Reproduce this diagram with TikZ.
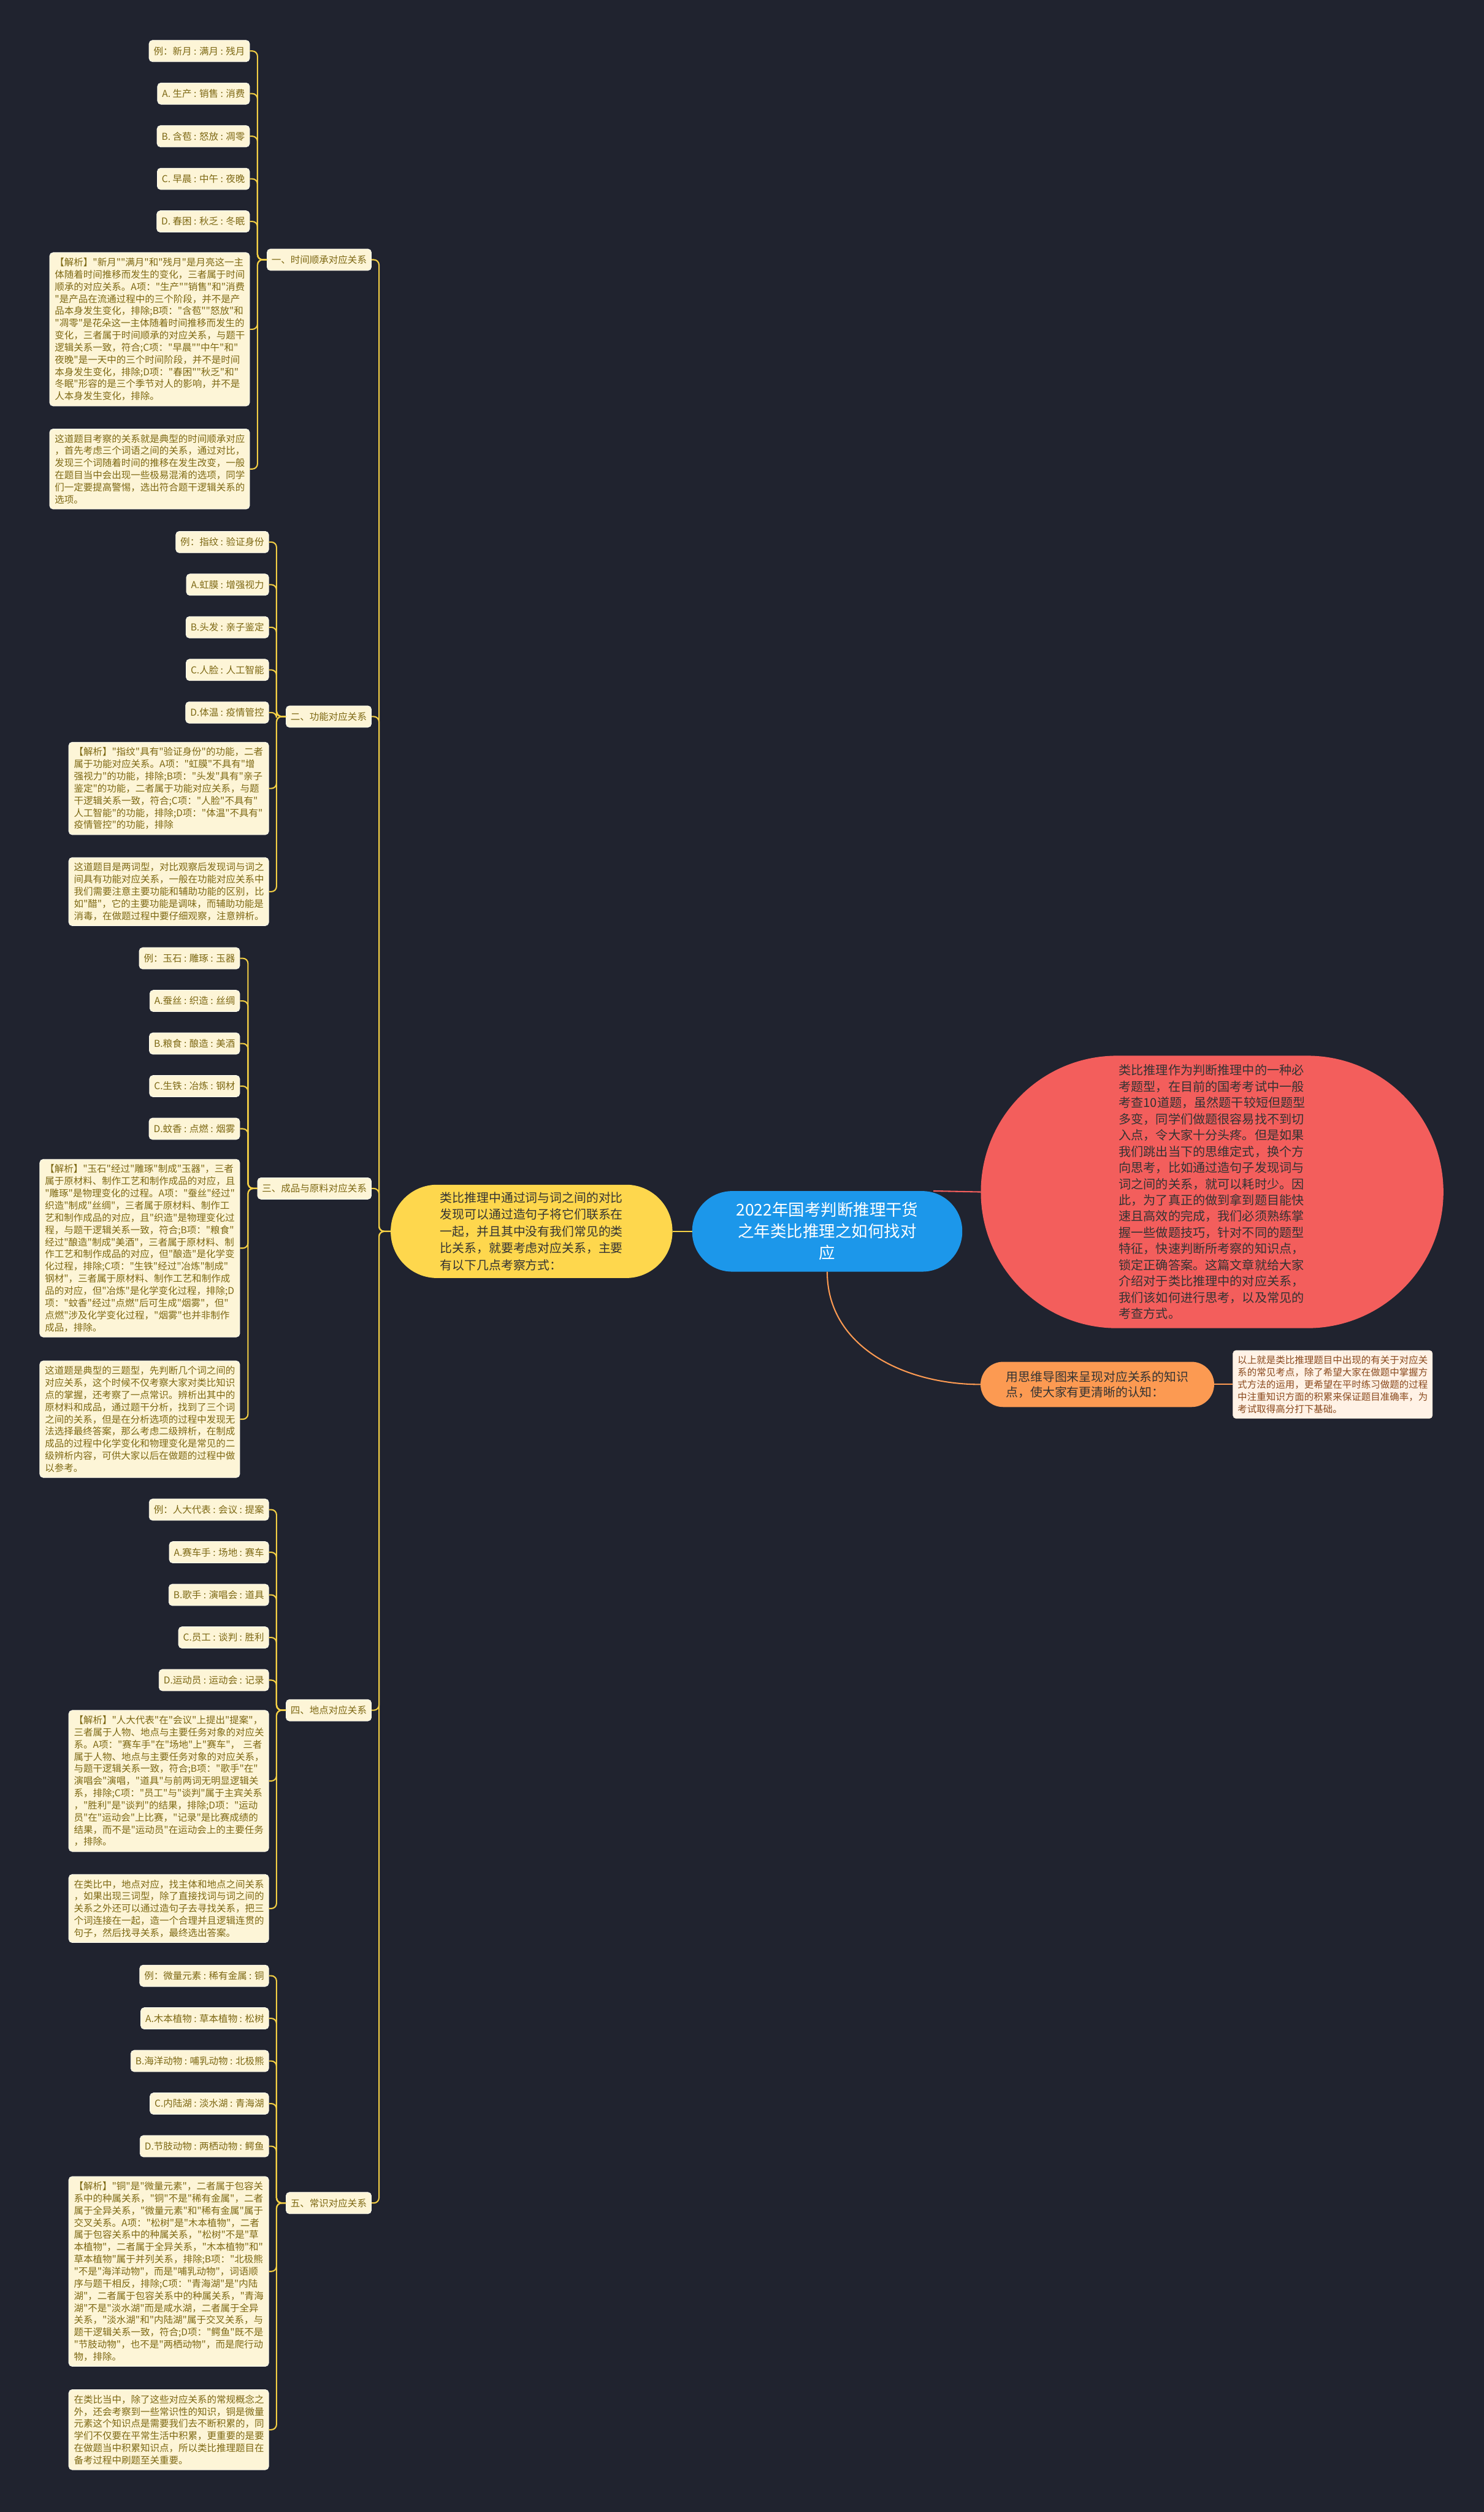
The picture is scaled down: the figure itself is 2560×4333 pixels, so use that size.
\documentclass[tikz,border=0pt]{standalone}
\usepackage{fontspec}
\setmainfont{Noto Sans CJK SC}[Ligatures=TeXOff]
\usepackage{xcolor}
\usetikzlibrary{positioning,calc}

\definecolor{bgc}{HTML}{20232F}
\definecolor{cream}{HTML}{FDF5D7}
\definecolor{olive}{HTML}{7D6813}
\definecolor{gold}{HTML}{F3CF45}
\definecolor{rootblue}{HTML}{1C97EA}
\definecolor{sunyel}{HTML}{FED74D}
\definecolor{coral}{HTML}{F35E5C}
\definecolor{tang}{HTML}{FC9A52}
\definecolor{peach}{HTML}{FFF2E6}
\definecolor{rust}{HTML}{8A4A1E}

\begin{document}
\begin{tikzpicture}[
    x=1pt, y=-1pt,
    font=\fontsize{16.4pt}{21pt}\selectfont,
    cat/.style  = {draw=white!70!cream, line width=0.8pt, fill=cream, text=olive,
                   rounded corners=6pt, minimum height=37pt, inner xsep=8pt, anchor=east},
    leaf/.style = {cat},
    txt/.style  = {cat, text width=327pt, align=left, inner xsep=9pt, inner ysep=9pt},
    pill/.style = {align=left, inner sep=4pt, text=black!80},
    ln/.style   = {draw=gold, line width=2.2pt, rounded corners=9pt},
]
\path[use as bounding box, fill=bgc] (0,0) rectangle (2560,4333);

%============================ CENTRE ================================
\node[pill, fill=rootblue, text=white, align=center, minimum width=466pt,
      minimum height=139pt, rounded corners=69pt,
      font=\fontsize{28pt}{37pt}\selectfont] (root) at (1427,2124)
      {2022年国考判断推理干货\\之年类比推理之如何找对\\应};

\node[pill, fill=sunyel, minimum width=486pt, minimum height=161pt,
      rounded corners=80pt, font=\fontsize{21pt}{29pt}\selectfont] (sum) at (917,2124)
      {类比推理中通过词与词之间的对比\\发现可以通过造句子将它们联系在\\一起，并且其中没有我们常见的类\\比关系，就要考虑对应关系，主要\\有以下几点考察方式：};

\node[pill, fill=coral, minimum width=798pt, minimum height=470pt,
      rounded corners=235pt, font=\fontsize{21.3pt}{28pt}\selectfont] (intro) at (2091,2056)
      {类比推理作为判断推理中的一种必\\考题型，在目前的国考考试中一般\\考查10道题，虽然题干较短但题型\\多变，同学们做题很容易找不到切\\入点，令大家十分头疼。但是如果\\我们跳出当下的思维定式，换个方\\向思考，比如通过造句子发现词与\\词之间的关系，就可以耗时少。因\\此，为了真正的做到拿到题目能快\\速且高效的完成，我们必须熟练掌\\握一些做题技巧，针对不同的题型\\特征，快速判断所考察的知识点，\\锁定正确答案。这篇文章就给大家\\介绍对于类比推理中的对应关系，\\我们该如何进行思考，以及常见的\\考查方式。};

\node[pill, fill=tang, minimum width=403pt, minimum height=78pt,
      rounded corners=39pt, font=\fontsize{21pt}{27pt}\selectfont] (mm) at (1893,2388)
      {用思维导图来呈现对应关系的知识\\点，使大家有更清晰的认知：};

\node[draw=white!80!tang, fill=peach, text=rust, rounded corners=5pt,
      text width=328pt, align=left, inner xsep=8pt, inner ysep=9pt] (fin) at (2299,2388)
      {以上就是类比推理题目中出现的有关于对应关\\系的常见考点，除了希望大家在做题中掌握方\\式方法的运用，更希望在平时练习做题的过程\\中注重知识方面的积累来保证题目准确率，为\\考试取得高分打下基础。};

\draw[draw=gold, line width=2.2pt] (sum.east) -- (root.west);
\draw[draw=coral, line width=2.2pt] ([xshift=-50pt]root.north east) -- (intro.west);
\draw[draw=tang, line width=2.2pt] (root.south) .. controls +(0,130) and +(-130,0) .. (mm.west);
\draw[draw=tang, line width=2.2pt] (mm.east) -- (fin.west);

%============================ CATEGORIES ============================
\node[cat] (c1) at (641,448)  {一、时间顺承对应关系};
\node[cat] (c2) at (641,1236) {二、功能对应关系};
\node[cat] (c3) at (641,2050) {三、成品与原料对应关系};
\node[cat] (c4) at (641,2950) {四、地点对应关系};
\node[cat] (c5) at (641,3800) {五、常识对应关系};

\draw[ln] (sum.west) -- ++(-20,0) |- (c1.east);
\draw[ln] (sum.west) -- ++(-20,0) |- (c2.east);
\draw[ln] (sum.west) -- ++(-20,0) |- (c3.east);
\draw[ln] (sum.west) -- ++(-20,0) |- (c4.east);
\draw[ln] (sum.west) -- ++(-20,0) |- (c5.east);

%============================ GROUP 1 ===============================
\node[leaf] (e1) at (431,88) {例：新月 : 满月 : 残月};
\node[leaf, anchor=north east] (e1a) at ([yshift=-35.7pt]e1.south east)  {A. 生产 : 销售 : 消费};
\node[leaf, anchor=north east] (e1b) at ([yshift=-35.7pt]e1a.south east) {B. 含苞 : 怒放 : 凋零};
\node[leaf, anchor=north east] (e1c) at ([yshift=-35.7pt]e1b.south east) {C. 早晨 : 中午 : 夜晚};
\node[leaf, anchor=north east] (e1d) at ([yshift=-35.7pt]e1c.south east) {D. 春困 : 秋乏 : 冬眠};
\node[txt] (j1) at (431,568)
      {【解析】"新月""满月"和"残月"是月亮这一主\\体随着时间推移而发生的变化，三者属于时间\\顺承的对应关系。A项："生产""销售"和"消费\\"是产品在流通过程中的三个阶段，并不是产\\品本身发生变化，排除;B项："含苞""怒放"和\\"凋零"是花朵这一主体随着时间推移而发生的\\变化，三者属于时间顺承的对应关系，与题干\\逻辑关系一致，符合;C项："早晨""中午"和"\\夜晚"是一天中的三个时间阶段，并不是时间\\本身发生变化，排除;D项："春困""秋乏"和"\\冬眠"形容的是三个季节对人的影响，并不是\\人本身发生变化，排除。};
\node[txt] (n1) at (431,809)
      {这道题目考察的关系就是典型的时间顺承对应\\，首先考虑三个词语之间的关系，通过对比，\\发现三个词随着时间的推移在发生改变，一般\\在题目当中会出现一些极易混淆的选项，同学\\们一定要提高警惕，选出符合题干逻辑关系的\\选项。};

\draw[ln] (c1.west) -- ++(-16,0) |- (e1.east);
\draw[ln] (c1.west) -- ++(-16,0) |- (e1a.east);
\draw[ln] (c1.west) -- ++(-16,0) |- (e1b.east);
\draw[ln] (c1.west) -- ++(-16,0) |- (e1c.east);
\draw[ln] (c1.west) -- ++(-16,0) |- (e1d.east);
\draw[ln] (c1.west) -- ++(-16,0) |- (j1.east);
\draw[ln] (c1.west) -- ++(-16,0) |- (n1.east);

%============================ GROUP 2 ===============================
\node[leaf] (e2) at (464,935) {例：指纹 : 验证身份};
\node[leaf, anchor=north east] (e2a) at ([yshift=-35.7pt]e2.south east)  {A.虹膜 : 增强视力};
\node[leaf, anchor=north east] (e2b) at ([yshift=-35.7pt]e2a.south east) {B.头发 : 亲子鉴定};
\node[leaf, anchor=north east] (e2c) at ([yshift=-35.7pt]e2b.south east) {C.人脸 : 人工智能};
\node[leaf, anchor=north east] (e2d) at ([yshift=-35.7pt]e2c.south east) {D.体温 : 疫情管控};
\node[txt] (j2) at (464,1360)
      {【解析】"指纹"具有"验证身份"的功能，二者\\属于功能对应关系。A项："虹膜"不具有"增\\强视力"的功能，排除;B项："头发"具有"亲子\\鉴定"的功能，二者属于功能对应关系，与题\\干逻辑关系一致，符合;C项："人脸"不具有"\\人工智能"的功能，排除;D项："体温"不具有"\\疫情管控"的功能，排除};
\node[txt] (n2) at (464,1538)
      {这道题目是两词型，对比观察后发现词与词之\\间具有功能对应关系，一般在功能对应关系中\\我们需要注意主要功能和辅助功能的区别，比\\如"醋"，它的主要功能是调味，而辅助功能是\\消毒，在做题过程中要仔细观察，注意辨析。};

\draw[ln] (c2.west) -- ++(-16,0) |- (e2.east);
\draw[ln] (c2.west) -- ++(-16,0) |- (e2a.east);
\draw[ln] (c2.west) -- ++(-16,0) |- (e2b.east);
\draw[ln] (c2.west) -- ++(-16,0) |- (e2c.east);
\draw[ln] (c2.west) -- ++(-16,0) |- (e2d.east);
\draw[ln] (c2.west) -- ++(-16,0) |- (j2.east);
\draw[ln] (c2.west) -- ++(-16,0) |- (n2.east);

%============================ GROUP 3 ===============================
\node[leaf] (e3) at (414,1653) {例：玉石 : 雕琢 : 玉器};
\node[leaf, anchor=north east] (e3a) at ([yshift=-35.7pt]e3.south east)  {A.蚕丝 : 织造 : 丝绸};
\node[leaf, anchor=north east] (e3b) at ([yshift=-35.7pt]e3a.south east) {B.粮食 : 酿造 : 美酒};
\node[leaf, anchor=north east] (e3c) at ([yshift=-35.7pt]e3b.south east) {C.生铁 : 冶炼 : 钢材};
\node[leaf, anchor=north east] (e3d) at ([yshift=-35.7pt]e3c.south east) {D.蚊香 : 点燃 : 烟雾};
\node[txt] (j3) at (414,2153)
      {【解析】"玉石"经过"雕琢"制成"玉器"，三者\\属于原材料、制作工艺和制作成品的对应，且\\"雕琢"是物理变化的过程。A项："蚕丝"经过"\\织造"制成"丝绸"，三者属于原材料、制作工\\艺和制作成品的对应，且"织造"是物理变化过\\程，与题干逻辑关系一致，符合;B项："粮食"\\经过"酿造"制成"美酒"，三者属于原材料、制\\作工艺和制作成品的对应，但"酿造"是化学变\\化过程，排除;C项："生铁"经过"冶炼"制成"\\钢材"，三者属于原材料、制作工艺和制作成\\品的对应，但"冶炼"是化学变化过程，排除;D\\项："蚊香"经过"点燃"后可生成"烟雾"，但"\\点燃"涉及化学变化过程，"烟雾"也并非制作\\成品，排除。};
\node[txt] (n3) at (414,2448)
      {这道题是典型的三题型，先判断几个词之间的\\对应关系，这个时候不仅考察大家对类比知识\\点的掌握，还考察了一点常识。辨析出其中的\\原材料和成品，通过题干分析，找到了三个词\\之间的关系，但是在分析选项的过程中发现无\\法选择最终答案，那么考虑二级辨析，在制成\\成品的过程中化学变化和物理变化是常见的二\\级辨析内容，可供大家以后在做题的过程中做\\以参考。};

\draw[ln] (c3.west) -- ++(-16,0) |- (e3.east);
\draw[ln] (c3.west) -- ++(-16,0) |- (e3a.east);
\draw[ln] (c3.west) -- ++(-16,0) |- (e3b.east);
\draw[ln] (c3.west) -- ++(-16,0) |- (e3c.east);
\draw[ln] (c3.west) -- ++(-16,0) |- (e3d.east);
\draw[ln] (c3.west) -- ++(-16,0) |- (j3.east);
\draw[ln] (c3.west) -- ++(-16,0) |- (n3.east);

%============================ GROUP 4 ===============================
\node[leaf] (e4) at (464,2604) {例：人大代表 : 会议 : 提案};
\node[leaf, anchor=north east] (e4a) at ([yshift=-35.7pt]e4.south east)  {A.赛车手 : 场地 : 赛车};
\node[leaf, anchor=north east] (e4b) at ([yshift=-35.7pt]e4a.south east) {B.歌手 : 演唱会 : 道具};
\node[leaf, anchor=north east] (e4c) at ([yshift=-35.7pt]e4b.south east) {C.员工 : 谈判 : 胜利};
\node[leaf, anchor=north east] (e4d) at ([yshift=-35.7pt]e4c.south east) {D.运动员 : 运动会 : 记录};
\node[txt] (j4) at (464,3072)
      {【解析】"人大代表"在"会议"上提出"提案"，\\三者属于人物、地点与主要任务对象的对应关\\系。A项："赛车手"在"场地"上"赛车"，~三者\\属于人物、地点与主要任务对象的对应关系，\\与题干逻辑关系一致，符合;B项："歌手"在"\\演唱会"演唱，"道具"与前两词无明显逻辑关\\系，排除;C项："员工"与"谈判"属于主宾关系\\，"胜利"是"谈判"的结果，排除;D项："运动\\员"在"运动会"上比赛，"记录"是比赛成绩的\\结果，而不是"运动员"在运动会上的主要任务\\，排除。};
\node[txt] (n4) at (464,3292)
      {在类比中，地点对应，找主体和地点之间关系\\，如果出现三词型，除了直接找词与词之间的\\关系之外还可以通过造句子去寻找关系，把三\\个词连接在一起，造一个合理并且逻辑连贯的\\句子，然后找寻关系，最终选出答案。};

\draw[ln] (c4.west) -- ++(-16,0) |- (e4.east);
\draw[ln] (c4.west) -- ++(-16,0) |- (e4a.east);
\draw[ln] (c4.west) -- ++(-16,0) |- (e4b.east);
\draw[ln] (c4.west) -- ++(-16,0) |- (e4c.east);
\draw[ln] (c4.west) -- ++(-16,0) |- (e4d.east);
\draw[ln] (c4.west) -- ++(-16,0) |- (j4.east);
\draw[ln] (c4.west) -- ++(-16,0) |- (n4.east);

%============================ GROUP 5 ===============================
\node[leaf] (e5) at (464,3408) {例：微量元素 : 稀有金属 : 铜};
\node[leaf, anchor=north east] (e5a) at ([yshift=-35.7pt]e5.south east)  {A.木本植物 : 草本植物 : 松树};
\node[leaf, anchor=north east] (e5b) at ([yshift=-35.7pt]e5a.south east) {B.海洋动物 : 哺乳动物 : 北极熊};
\node[leaf, anchor=north east] (e5c) at ([yshift=-35.7pt]e5b.south east) {C.内陆湖 : 淡水湖 : 青海湖};
\node[leaf, anchor=north east] (e5d) at ([yshift=-35.7pt]e5c.south east) {D.节肢动物 : 两栖动物 : 鳄鱼};
\node[txt] (j5) at (464,3918)
      {【解析】"铜"是"微量元素"，二者属于包容关\\系中的种属关系，"铜"不是"稀有金属"，二者\\属于全异关系，"微量元素"和"稀有金属"属于\\交叉关系。A项："松树"是"木本植物"，二者\\属于包容关系中的种属关系，"松树"不是"草\\本植物"，二者属于全异关系，"木本植物"和"\\草本植物"属于并列关系，排除;B项："北极熊\\"不是"海洋动物"，而是"哺乳动物"，词语顺\\序与题干相反，排除;C项："青海湖"是"内陆\\湖"，二者属于包容关系中的种属关系，"青海\\湖"不是"淡水湖"而是咸水湖，二者属于全异\\关系，"淡水湖"和"内陆湖"属于交叉关系，与\\题干逻辑关系一致，符合;D项："鳄鱼"既不是\\"节肢动物"，也不是"两栖动物"，而是爬行动\\物，排除。};
\node[txt] (n5) at (464,4191)
      {在类比当中，除了这些对应关系的常规概念之\\外，还会考察到一些常识性的知识，铜是微量\\元素这个知识点是需要我们去不断积累的，同\\学们不仅要在平常生活中积累，更重要的是要\\在做题当中积累知识点，所以类比推理题目在\\备考过程中刷题至关重要。};

\draw[ln] (c5.west) -- ++(-16,0) |- (e5.east);
\draw[ln] (c5.west) -- ++(-16,0) |- (e5a.east);
\draw[ln] (c5.west) -- ++(-16,0) |- (e5b.east);
\draw[ln] (c5.west) -- ++(-16,0) |- (e5c.east);
\draw[ln] (c5.west) -- ++(-16,0) |- (e5d.east);
\draw[ln] (c5.west) -- ++(-16,0) |- (j5.east);
\draw[ln] (c5.west) -- ++(-16,0) |- (n5.east);

\end{tikzpicture}
\end{document}
